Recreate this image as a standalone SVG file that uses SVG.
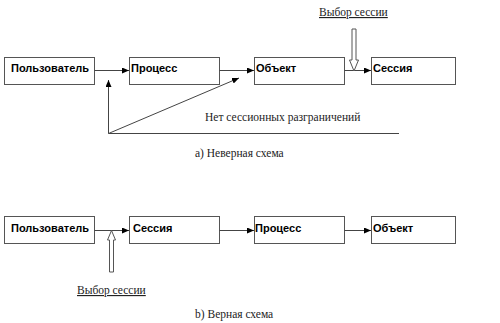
<svg xmlns="http://www.w3.org/2000/svg" width="500" height="323" viewBox="0 0 500 323">
<style>
.box{fill:#fff;stroke:#555;stroke-width:1}
.lbl{font-family:"Liberation Sans",Arial,sans-serif;font-weight:bold;font-size:11px;fill:#000}
.cap{font-family:"Liberation Serif","Times New Roman",serif;font-size:11.5px;fill:#222}
.ln{stroke:#444;stroke-width:1;fill:none}
.hollow{fill:#fff;stroke:#555;stroke-width:1}
</style>
<defs>
<marker id="ah" markerWidth="8" markerHeight="6" refX="7" refY="3" orient="auto" markerUnits="userSpaceOnUse">
<path d="M0,0 L7,3 L0,6 Z" fill="#000"/>
</marker>
</defs>
<rect width="500" height="323" fill="#fff"/>
<g id="top-user"><rect class="box" x="4.5" y="57.5" width="90" height="27"/><text class="lbl" x="11" y="71.5">Пользователь</text></g>
<g id="top-process"><rect class="box" x="129.5" y="57.5" width="90" height="27"/><text class="lbl" x="131" y="71.5">Процесс</text></g>
<g id="top-object"><rect class="box" x="254.5" y="57.5" width="90" height="27"/><text class="lbl" x="256" y="71.5">Объект</text></g>
<g id="top-session"><rect class="box" x="371.5" y="57.5" width="84" height="27"/><text class="lbl" x="373" y="71.5">Сессия</text></g>
<g id="bot-user"><rect class="box" x="4.5" y="216.5" width="90" height="27"/><text class="lbl" x="11" y="231.5">Пользователь</text></g>
<g id="bot-session"><rect class="box" x="129.5" y="216.5" width="90" height="27"/><text class="lbl" x="133" y="231.5">Сессия</text></g>
<g id="bot-process"><rect class="box" x="254.5" y="216.5" width="90" height="27"/><text class="lbl" x="255" y="231.5">Процесс</text></g>
<g id="bot-object"><rect class="box" x="371.5" y="216.5" width="84" height="27"/><text class="lbl" x="373" y="231.5">Объект</text></g>
<g id="connectors">
<line class="ln" x1="94.5" y1="70.5" x2="129" y2="70.5" marker-end="url(#ah)"/>
<line class="ln" x1="219.5" y1="70.5" x2="254" y2="70.5" marker-end="url(#ah)"/>
<line class="ln" x1="344.5" y1="70.5" x2="371" y2="70.5" marker-end="url(#ah)"/>
<line class="ln" x1="108.5" y1="133.5" x2="108.5" y2="80" marker-end="url(#ah)"/>
<line class="ln" x1="108.5" y1="133.5" x2="239" y2="78" marker-end="url(#ah)"/>
<line class="ln" x1="108.5" y1="133.5" x2="399" y2="133.5"/>
<line class="ln" x1="94.5" y1="230.5" x2="129" y2="230.5" marker-end="url(#ah)"/>
<line class="ln" x1="219.5" y1="230.5" x2="254" y2="230.5" marker-end="url(#ah)"/>
<line class="ln" x1="344.5" y1="230.5" x2="371" y2="230.5" marker-end="url(#ah)"/>
<path class="hollow" d="M352,29 L356,29 L356,60 L358.5,60 L354,71 L349.5,60 L352,60 Z"/>
<path class="hollow" d="M109.5,272 L113.5,272 L113.5,240 L115.5,240 L111.5,230.5 L107.5,240 L109.5,240 Z"/>
</g>
<text class="cap" x="319" y="16" text-decoration="underline">Выбор сессии</text>
<text class="cap" x="205" y="121">Нет сессионных разграничений</text>
<text class="cap" x="195" y="157">a) Неверная схема</text>
<text class="cap" x="77" y="294" text-decoration="underline">Выбор сессии</text>
<text class="cap" x="195" y="318">b) Верная схема</text>
</svg>
